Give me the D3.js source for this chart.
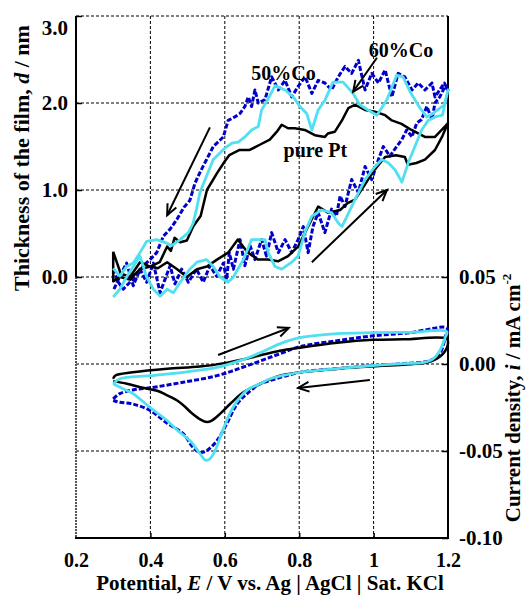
<!DOCTYPE html>
<html>
<head>
<meta charset="utf-8">
<script src="https://cdn.jsdelivr.net/npm/d3@7"></script>
<style>
  html, body { margin: 0; padding: 0; background: #fff; }
  svg { display: block; }
  text { font-family: "Liberation Serif", "Times New Roman", serif; font-weight: bold; fill: #000; }
</style>
</head>
<body>
<svg id="chart" width="526" height="597"></svg>
<script>
// Axis ticks
const potentialTicks = [0.2, 0.4, 0.6, 0.8, 1.0, 1.2];
const potentialLabels = ["0.2", "0.4", "0.6", "0.8", "1", "1.2"];
const thicknessTicks = [0, 1, 2, 3];
const thicknessLabels = ["0.0", "1.0", "2.0", "3.0"];
const currentTicks = [0.05, 0, -0.05, -0.10];
const currentLabels = ["0.05", "0.00", "-0.05", "-0.10"];

// Film thickness d (nm) vs potential E (V), one full sweep 0.3 -> 1.2 -> 0.3
const thicknessPt = [
  [0.300,0.29],[0.300,-0.05],[0.318,0.00],[0.345,-0.03],[0.372,0.09],[0.399,0.12],[0.420,0.10],[0.445,0.17],
  [0.472,0.09],[0.498,0.00],[0.525,0.09],[0.552,0.12],[0.579,0.20],[0.609,0.28],[0.635,0.43],[0.662,0.28],
  [0.689,0.20],[0.716,0.20],[0.743,0.18],[0.770,0.24],[0.797,0.35],[0.824,0.58],[0.851,0.81],[0.877,0.74],
  [0.910,0.77],[0.930,0.85],[0.950,0.89],[0.975,1.05],[1.000,1.22],[1.010,1.27],[1.031,1.38],[1.060,1.40],
  [1.084,1.38],[1.092,1.29],[1.115,1.31],[1.138,1.35],[1.165,1.46],[1.185,1.62],[1.200,1.77],
  [1.192,1.73],[1.165,1.61],[1.138,1.61],[1.102,1.69],[1.075,1.76],[1.049,1.80],[1.031,1.86],[1.004,1.90],
  [0.977,1.92],[0.950,1.98],[0.932,1.94],[0.915,1.80],[0.896,1.67],[0.877,1.65],[0.869,1.61],[0.842,1.63],
  [0.815,1.69],[0.788,1.71],[0.770,1.71],[0.753,1.75],[0.740,1.67],[0.721,1.58],[0.694,1.52],[0.667,1.46],
  [0.640,1.46],[0.612,1.40],[0.600,1.33],[0.580,1.20],[0.552,1.00],[0.535,0.70],[0.515,0.58],[0.498,0.42],
  [0.480,0.40],[0.465,0.45],[0.455,0.30],[0.445,0.35],[0.425,0.17],[0.399,0.12],[0.372,0.17],[0.345,0.00],
  [0.320,0.04],[0.300,0.29]
];
const thickness50Co = [
  [0.302,-0.14],[0.318,0.01],[0.336,0.16],[0.354,-0.10],[0.372,0.09],[0.390,-0.06],[0.408,0.16],[0.426,-0.18],
  [0.439,-0.03],[0.453,0.13],[0.466,-0.08],[0.484,0.09],[0.502,-0.06],[0.524,0.09],[0.542,-0.06],[0.560,0.13],
  [0.578,0.01],[0.596,0.16],[0.605,-0.03],[0.612,0.28],[0.623,0.09],[0.641,0.43],[0.654,0.13],[0.668,0.36],
  [0.681,0.20],[0.699,0.43],[0.712,0.24],[0.726,0.51],[0.744,0.28],[0.762,0.43],[0.780,0.28],[0.797,0.43],
  [0.811,0.58],[0.824,0.28],[0.837,0.58],[0.851,0.74],[0.869,0.51],[0.887,0.78],[0.900,0.70],[0.910,0.93],
  [0.923,0.81],[0.941,1.12],[0.959,0.97],[0.977,1.27],[0.995,1.12],[1.013,1.35],[1.026,1.50],[1.044,1.39],
  [1.062,1.50],[1.076,1.58],[1.089,1.69],[1.103,1.61],[1.116,1.77],[1.129,1.81],[1.143,1.96],[1.157,1.81],
  [1.165,2.00],[1.178,2.07],[1.192,2.19],[1.200,2.15],
  [1.190,2.23],[1.165,2.07],[1.157,2.23],[1.138,2.15],[1.120,2.23],[1.103,2.15],[1.084,2.30],[1.066,2.34],
  [1.049,2.07],[1.031,2.38],[1.013,2.23],[0.995,2.34],[0.977,2.15],[0.959,2.49],[0.941,2.34],[0.923,2.42],
  [0.905,2.30],[0.887,2.15],[0.869,2.23],[0.851,2.26],[0.834,2.11],[0.816,2.30],[0.797,2.19],[0.780,2.07],
  [0.762,2.26],[0.744,2.15],[0.726,2.30],[0.708,2.04],[0.690,2.00],[0.681,2.15],[0.672,1.96],[0.663,2.07],
  [0.654,1.96],[0.641,1.88],[0.627,1.84],[0.609,1.80],[0.596,1.61],[0.569,1.50],[0.551,1.35],[0.533,1.20],
  [0.520,1.08],[0.506,0.88],[0.490,0.80],[0.471,0.66],[0.453,0.55],[0.435,0.47],[0.417,0.28],[0.399,0.20],
  [0.381,0.13],[0.363,0.01],[0.345,-0.06],[0.327,-0.14],[0.309,-0.03],[0.302,0.09]
];
const thickness60Co = [
  [0.300,-0.23],[0.318,-0.14],[0.336,0.00],[0.354,0.12],[0.372,0.24],[0.390,0.00],[0.408,-0.14],[0.426,-0.22],
  [0.445,-0.14],[0.462,-0.18],[0.480,-0.06],[0.506,0.09],[0.525,0.17],[0.551,0.20],[0.569,0.12],[0.587,0.00],
  [0.609,-0.06],[0.623,0.00],[0.650,0.20],[0.672,0.43],[0.708,0.43],[0.717,0.28],[0.735,0.12],[0.753,0.09],
  [0.780,0.17],[0.797,0.24],[0.815,0.51],[0.834,0.70],[0.860,0.77],[0.887,0.74],[0.905,0.62],[0.915,0.58],
  [0.950,0.89],[0.977,1.12],[1.004,1.27],[1.022,1.35],[1.040,1.31],[1.058,1.23],[1.076,1.09],[1.093,1.31],
  [1.111,1.50],[1.129,1.69],[1.147,1.80],[1.165,1.84],[1.185,1.86],[1.200,2.15],
  [1.190,1.98],[1.160,1.88],[1.143,1.84],[1.125,1.94],[1.098,2.13],[1.079,2.30],[1.062,2.32],[1.036,2.04],
  [1.009,1.86],[0.985,1.92],[0.963,1.98],[0.945,2.11],[0.918,2.24],[0.891,2.24],[0.869,2.03],[0.851,1.92],
  [0.834,1.69],[0.820,1.88],[0.802,1.96],[0.784,2.07],[0.762,2.15],[0.735,2.20],[0.717,2.05],[0.699,1.92],
  [0.690,1.73],[0.672,1.69],[0.654,1.61],[0.636,1.55],[0.619,1.54],[0.600,1.48],[0.569,1.35],[0.551,1.16],
  [0.533,0.97],[0.524,0.78],[0.515,0.62],[0.502,0.51],[0.480,0.43],[0.457,0.36],[0.444,0.39],[0.417,0.43],
  [0.390,0.41],[0.372,0.28],[0.354,0.16],[0.336,0.12],[0.318,0.01],[0.300,0.10]
];

// Cyclic voltammograms: current density i (mA cm^-2) vs potential E (V)
const currentPt = [
  [0.300,-0.0085],[0.305,-0.0067],[0.353,-0.0048],[0.445,-0.0027],[0.533,-0.0015],[0.606,0.0008],
  [0.668,0.0036],[0.748,0.0076],[0.802,0.0094],[0.902,0.0122],[0.998,0.0139],[1.080,0.0142],[1.197,0.0145],
  [1.200,0.0120],[1.197,0.0094],[1.187,0.0060],[1.170,0.0030],[1.144,0.0008],[1.079,-0.0004],[0.990,-0.0015],
  [0.902,-0.0027],[0.802,-0.0048],[0.748,-0.0067],[0.695,-0.0114],[0.649,-0.0164],[0.614,-0.0230],
  [0.587,-0.0287],[0.565,-0.0325],[0.552,-0.0334],[0.535,-0.0320],[0.510,-0.0280],[0.490,-0.0240],
  [0.472,-0.0210],[0.445,-0.0180],[0.418,-0.0154],[0.380,-0.0137],[0.337,-0.0114],[0.300,-0.0097]
];
const current50Co = [
  [0.300,-0.0200],[0.318,-0.0170],[0.353,-0.0149],[0.399,-0.0137],[0.488,-0.0105],[0.579,-0.0067],
  [0.660,-0.0010],[0.748,0.0059],[0.802,0.0100],[0.902,0.0134],[0.998,0.0162],[1.098,0.0180],[1.197,0.0206],
  [1.192,0.0150],[1.178,0.0060],[1.152,0.0020],[1.079,0.0002],[0.990,-0.0010],[0.902,-0.0027],
  [0.802,-0.0048],[0.722,-0.0095],[0.695,-0.0114],[0.660,-0.0170],[0.633,-0.0230],[0.606,-0.0340],
  [0.579,-0.0440],[0.552,-0.0497],[0.533,-0.0508],[0.515,-0.0480],[0.488,-0.0400],[0.445,-0.0340],
  [0.399,-0.0267],[0.353,-0.0230],[0.318,-0.0220],[0.300,-0.0210]
];
const current60Co = [
  [0.300,-0.0114],[0.318,-0.0085],[0.399,-0.0067],[0.488,-0.0048],[0.579,-0.0020],[0.641,0.0019],
  [0.695,0.0065],[0.748,0.0116],[0.802,0.0151],[0.902,0.0174],[0.998,0.0180],[1.098,0.0182],[1.197,0.0185],
  [1.192,0.0150],[1.178,0.0076],[1.160,0.0030],[1.133,0.0008],[1.079,0.0002],[0.990,-0.0010],[0.902,-0.0027],
  [0.802,-0.0048],[0.722,-0.0085],[0.695,-0.0114],[0.660,-0.0150],[0.622,-0.0250],[0.595,-0.0380],
  [0.574,-0.0497],[0.560,-0.0545],[0.548,-0.0553],[0.533,-0.0514],[0.506,-0.0440],[0.472,-0.0380],
  [0.445,-0.0325],[0.399,-0.0250],[0.353,-0.0170],[0.318,-0.0134],[0.300,-0.0114]
];

// Sweep-direction arrows: [from, to] in data units
const thicknessArrows = [
  [[0.560, 1.72], [0.445, 0.71]],
  [[1.009, 2.52], [0.945, 2.13]],
  [[0.834, 0.17], [1.036, 1.00]]
];
const currentArrows = [
  [[0.582, 0.0052], [0.772, 0.0207]],
  [[0.990, -0.0092], [0.797, -0.0138]]
];

// Curve labels
const curveLabels = [
  { text: "50%Co", E: 0.671, d: 2.26 },
  { text: "60%Co", E: 0.987, d: 2.53 },
  { text: "pure Pt", E: 0.758, d: 1.38 }
];

(function draw() {
  const svg = d3.select("#chart");
  const pLeft = 76, pRight = 448, pTop = 16, pBottom = 538;
  const serif = "'Liberation Serif','Times New Roman',serif";

  const x = d3.scaleLinear().domain([0.2, 1.2]).range([pLeft, pRight]);
  const yThick = d3.scaleLinear().domain([-3, 3]).range([pBottom, pTop]);
  const yCur = d3.scaleLinear().domain([-0.1, 0.2]).range([pBottom, pTop]);

  // Grid
  const grid = svg.append("g").attr("stroke", "#000").attr("stroke-width", 1).attr("stroke-dasharray", "3,2");
  grid.selectAll("line.v").data(potentialTicks.slice(1, -1)).join("line").attr("class", "v")
    .attr("x1", d => x(d)).attr("x2", d => x(d)).attr("y1", pTop).attr("y2", pBottom);
  const hGrid = [yThick(3), yThick(2), yThick(1), yThick(0), yCur(0), yCur(-0.05)];
  grid.selectAll("line.h").data(hGrid).join("line").attr("class", "h")
    .attr("x1", pLeft).attr("x2", pRight).attr("y1", d => d).attr("y2", d => d);

  // Frame
  svg.append("line").attr("x1", pLeft).attr("x2", pLeft).attr("y1", yThick(0)).attr("y2", pBottom)
    .attr("stroke", "#555").attr("stroke-width", 2).attr("stroke-dasharray", "2,1");
  svg.append("line").attr("x1", pLeft).attr("x2", pLeft).attr("y1", pTop).attr("y2", yThick(0))
    .attr("stroke", "#000").attr("stroke-width", 2);
  svg.append("line").attr("x1", pRight).attr("x2", pRight).attr("y1", pTop).attr("y2", pBottom)
    .attr("stroke", "#000").attr("stroke-width", 2);
  svg.append("line").attr("x1", pLeft - 1).attr("x2", pRight + 1).attr("y1", pBottom).attr("y2", pBottom)
    .attr("stroke", "#000").attr("stroke-width", 2);

  // Axes
  function styleAxis(g, size) {
    g.attr("font-family", serif).attr("font-weight", "bold");
    g.select(".domain").remove();
    g.selectAll(".tick line").attr("stroke", "#000").attr("stroke-width", 1.5);
    g.selectAll("text").attr("font-family", serif)
      .attr("font-weight", "bold").attr("font-size", size).attr("fill", "#000");
  }
  const xAxis = svg.append("g").attr("transform", `translate(0,${pBottom})`)
    .call(d3.axisBottom(x).tickValues(potentialTicks).tickFormat((d, i) => potentialLabels[i])
      .tickSize(-5).tickPadding(15));
  styleAxis(xAxis, 20);
  xAxis.selectAll(".tick").filter(d => d === 0.2 || d === 1.2).select("line").remove();

  const yAxisL = svg.append("g").attr("transform", `translate(${pLeft},0)`)
    .call(d3.axisLeft(yThick).tickValues(thicknessTicks).tickFormat((d, i) => thicknessLabels[i])
      .tickSize(-6).tickPadding(8));
  styleAxis(yAxisL, 21);
  yAxisL.selectAll(".tick").filter(d => d === 3).select("text").attr("dy", "0.9em");

  const yAxisR = svg.append("g").attr("transform", `translate(${pRight},0)`)
    .call(d3.axisRight(yCur).tickValues(currentTicks).tickFormat((d, i) => currentLabels[i])
      .tickSize(-6).tickPadding(11));
  styleAxis(yAxisR, 21);

  // Curves
  const lineT = d3.line().x(p => x(p[0])).y(p => yThick(p[1]));
  const lineC = d3.line().x(p => x(p[0])).y(p => yCur(p[1])).curve(d3.curveCatmullRom.alpha(0.5));

  const series = [
    { t: thickness50Co, c: current50Co, color: "#0000c8", dash: "5,2", w: 3 },
    { t: thicknessPt, c: currentPt, color: "#000000", dash: null, w: 2.5 },
    { t: thickness60Co, c: current60Co, color: "#50e0f0", dash: null, w: 2.8 }
  ];
  const curves = svg.append("g").attr("fill", "none").attr("stroke-linejoin", "round");
  series.forEach(s => {
    curves.append("path").attr("d", lineT(s.t)).attr("stroke", s.color)
      .attr("stroke-width", s.w).attr("stroke-dasharray", s.dash);
    curves.append("path").attr("d", lineC(s.c)).attr("stroke", s.color)
      .attr("stroke-width", s.w).attr("stroke-dasharray", s.dash);
  });

  // Arrows
  function drawArrow(x1, y1, x2, y2) {
    const g = svg.append("g").attr("stroke", "#000").attr("stroke-width", 2).attr("fill", "none");
    g.append("line").attr("x1", x1).attr("y1", y1).attr("x2", x2).attr("y2", y2);
    const a = Math.atan2(y2 - y1, x2 - x1), len = 12, spread = 0.42;
    const p1 = [x2 - len * Math.cos(a - spread), y2 - len * Math.sin(a - spread)];
    const p2 = [x2 - len * Math.cos(a + spread), y2 - len * Math.sin(a + spread)];
    g.append("path").attr("d", `M${p1[0]},${p1[1]}L${x2},${y2}L${p2[0]},${p2[1]}`);
  }
  thicknessArrows.forEach(([f, t]) => drawArrow(x(f[0]), yThick(f[1]), x(t[0]), yThick(t[1])));
  currentArrows.forEach(([f, t]) => drawArrow(x(f[0]), yCur(f[1]), x(t[0]), yCur(t[1])));

  // Curve labels
  svg.selectAll("text.curve").data(curveLabels).join("text")
    .attr("class", "curve").attr("x", d => x(d.E)).attr("y", d => yThick(d.d))
    .attr("font-size", 20).text(d => d.text);

  // Axis titles
  const xt = svg.append("text").attr("x", 270).attr("y", 590).attr("text-anchor", "middle").attr("font-size", 21);
  xt.append("tspan").text("Potential, ");
  xt.append("tspan").attr("font-style", "italic").text("E");
  xt.append("tspan").text(" / V vs. Ag | AgCl | Sat. KCl");

  const lt = svg.append("text").attr("transform", "translate(29,158) rotate(-90)")
    .attr("text-anchor", "middle").attr("font-size", 22);
  lt.append("tspan").text("Thickness of the film, ");
  lt.append("tspan").attr("font-style", "italic").text("d");
  lt.append("tspan").text(" / nm");

  const rt = svg.append("text").attr("transform", "translate(520,398) rotate(-90)")
    .attr("text-anchor", "middle").attr("font-size", 21);
  rt.append("tspan").text("Current density, ");
  rt.append("tspan").attr("font-style", "italic").text("i");
  rt.append("tspan").text(" / mA cm");
  rt.append("tspan").attr("font-size", 13).attr("dy", -9).text("-2");
})();
</script>
</body>
</html>
